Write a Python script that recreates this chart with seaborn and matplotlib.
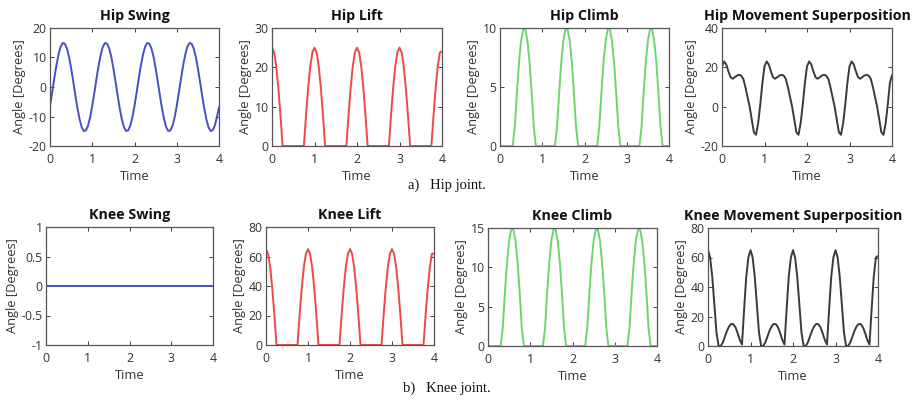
import matplotlib
matplotlib.use("Agg")
import matplotlib.pyplot as plt
import seaborn as sns
import pandas as pd

# ---------------- data (t step 0.05 s) ----------------
time = [round(0.05 * i, 2) for i in range(81)]

hip_swing = [
    -6.4, -1.9, 2.8, 7.2, 10.9, 13.6, 14.9, 14.7, 13.1, 10.3, 6.4, 1.9, -2.8, -7.2, -10.9, -13.6, -14.9, -14.7, -13.1, -10.3,
    -6.4, -1.9, 2.8, 7.2, 10.9, 13.6, 14.9, 14.7, 13.1, 10.3, 6.4, 1.9, -2.8, -7.2, -10.9, -13.6, -14.9, -14.7, -13.1, -10.3,
    -6.4, -1.9, 2.8, 7.2, 10.9, 13.6, 14.9, 14.7, 13.1, 10.3, 6.4, 1.9, -2.8, -7.2, -10.9, -13.6, -14.9, -14.7, -13.1, -10.3,
    -6.4, -1.9, 2.8, 7.2, 10.9, 13.6, 14.9, 14.7, 13.1, 10.3, 6.4, 1.9, -2.8, -7.2, -10.9, -13.6, -14.9, -14.7, -13.1, -10.3,
    -6.8]
hip_lift = [
    25, 23.8, 20.2, 14.7, 7.7, 0, 0, 0, 0, 0, 0, 0, 0, 0, 0, 0, 7.7, 14.7, 20.2, 23.8,
    25, 23.8, 20.2, 14.7, 7.7, 0, 0, 0, 0, 0, 0, 0, 0, 0, 0, 0, 7.7, 14.7, 20.2, 23.8,
    25, 23.8, 20.2, 14.7, 7.7, 0, 0, 0, 0, 0, 0, 0, 0, 0, 0, 0, 7.7, 14.7, 20.2, 23.8,
    25, 23.8, 20.2, 14.7, 7.7, 0, 0, 0, 0, 0, 0, 0, 0, 0, 0, 0, 7.7, 14.7, 20.2, 23.8,
    24]
hip_climb = [
    0, 0, 0, 0, 0, 0, 0, 1.6, 4.5, 7.1, 8.9, 9.9, 9.9, 8.9, 7.1, 4.5, 1.6, 0, 0, 0,
    0, 0, 0, 0, 0, 0, 0, 1.6, 4.5, 7.1, 8.9, 9.9, 9.9, 8.9, 7.1, 4.5, 1.6, 0, 0, 0,
    0, 0, 0, 0, 0, 0, 0, 1.6, 4.5, 7.1, 8.9, 9.9, 9.9, 8.9, 7.1, 4.5, 1.6, 0, 0, 0,
    0, 0, 0, 0, 0, 0, 0, 1.6, 4.5, 7.1, 8.9, 9.9, 9.9, 8.9, 7.1, 4.5, 1.6, 0, 0, 0,
    0]
hip_super = [
    20.5, 23.0, 21.5, 18.0, 15.0, 14.2, 15.0, 15.8, 16.2, 15.8, 14.2, 10.0, 5.0, 0.0, -6.5, -13.0, -14.3, -8.5, 1.0, 12.0,
    20.5, 23.0, 21.5, 18.0, 15.0, 14.2, 15.0, 15.8, 16.2, 15.8, 14.2, 10.0, 5.0, 0.0, -6.5, -13.0, -14.3, -8.5, 1.0, 12.0,
    20.5, 23.0, 21.5, 18.0, 15.0, 14.2, 15.0, 15.8, 16.2, 15.8, 14.2, 10.0, 5.0, 0.0, -6.5, -13.0, -14.3, -8.5, 1.0, 12.0,
    20.5, 23.0, 21.5, 18.0, 15.0, 14.2, 15.0, 15.8, 16.2, 15.8, 14.2, 10.0, 5.0, 0.0, -6.5, -13.0, -14.3, -8.5, 1.0, 12.0,
    16.0]

knee_swing = [0] * 81
knee_lift = [
    65, 61.8, 52.6, 38.2, 20.1, 0, 0, 0, 0, 0, 0, 0, 0, 0, 0, 0, 20.1, 38.2, 52.6, 61.8,
    65, 61.8, 52.6, 38.2, 20.1, 0, 0, 0, 0, 0, 0, 0, 0, 0, 0, 0, 20.1, 38.2, 52.6, 61.8,
    65, 61.8, 52.6, 38.2, 20.1, 0, 0, 0, 0, 0, 0, 0, 0, 0, 0, 0, 20.1, 38.2, 52.6, 61.8,
    65, 61.8, 52.6, 38.2, 20.1, 0, 0, 0, 0, 0, 0, 0, 0, 0, 0, 0, 20.1, 38.2, 52.6, 61.8,
    62]
knee_climb = [
    0, 0, 0, 0, 0, 0, 0, 2.3, 6.8, 10.6, 13.4, 14.8, 14.8, 13.4, 10.6, 6.8, 2.3, 0, 0, 0,
    0, 0, 0, 0, 0, 0, 0, 2.3, 6.8, 10.6, 13.4, 14.8, 14.8, 13.4, 10.6, 6.8, 2.3, 0, 0, 0,
    0, 0, 0, 0, 0, 0, 0, 2.3, 6.8, 10.6, 13.4, 14.8, 14.8, 13.4, 10.6, 6.8, 2.3, 0, 0, 0,
    0, 0, 0, 0, 0, 0, 0, 2.3, 6.8, 10.6, 13.4, 14.8, 14.8, 13.4, 10.6, 6.8, 2.3, 0, 0, 0,
    0]
knee_super = [
    65, 60, 47, 28, 9, 0, 0, 2.5, 6.5, 10.5, 13.5, 15, 14.7, 12.5, 8.5, 4, 1, 25, 47, 60,
    65, 60, 47, 28, 9, 0, 0, 2.5, 6.5, 10.5, 13.5, 15, 14.7, 12.5, 8.5, 4, 1, 25, 47, 60,
    65, 60, 47, 28, 9, 0, 0, 2.5, 6.5, 10.5, 13.5, 15, 14.7, 12.5, 8.5, 4, 1, 25, 47, 60,
    65, 60, 47, 28, 9, 0, 0, 2.5, 6.5, 10.5, 13.5, 15, 14.7, 12.5, 8.5, 4, 1, 25, 47, 60,
    61]

titles = ["Hip Swing", "Hip Lift", "Hip Climb", "Hip Movement Superposition",
          "Knee Swing", "Knee Lift", "Knee Climb", "Knee Movement Superposition"]
series = [hip_swing, hip_lift, hip_climb, hip_super,
          knee_swing, knee_lift, knee_climb, knee_super]
yticks = [[-20, -10, 0, 10, 20], [0, 10, 20, 30], [0, 5, 10], [-20, 0, 20, 40],
          [-1, -0.5, 0, 0.5, 1], [0, 20, 40, 60, 80], [0, 5, 10, 15], [0, 20, 40, 60, 80]]
ytick_labels = [["-20", "-10", "0", "10", "20"], ["0", "10", "20", "30"], ["0", "5", "10"],
                ["-20", "0", "20", "40"], ["-1", "-0.5", "0", "0.5", "1"],
                ["0", "20", "40", "60", "80"], ["0", "5", "10", "15"], ["0", "20", "40", "60", "80"]]
xticks = [0, 1, 2, 3, 4]
captions = ["a)   Hip joint.", "b)   Knee joint."]

# ---------------- styling ----------------
sns.set_theme(style="white")
plt.rcParams["font.family"] = ["Open Sans", "DejaVu Sans"]
plt.rcParams["axes.unicode_minus"] = False

colors = ["#4550c4", "#f04848", "#6cd66c", "#3a3a3a"] * 2

W, H = 916, 407
fig = plt.figure(figsize=(W / 100, H / 100), dpi=100)

# axes boxes in pixels: left, top, right, bottom
boxes = [(50, 28, 219, 146), (272, 28, 442, 146), (500, 28, 669, 146), (722, 28, 892, 146),
         (46, 227, 213, 345), (266, 227, 434, 345), (488, 228, 657, 346), (708, 228, 878, 346)]

for i in range(8):
    l, t, r, b = boxes[i]
    ax = fig.add_axes([l / W, 1 - b / H, (r - l) / W, (b - t) / H])
    df = pd.DataFrame({"Time": time, "Angle": series[i]})
    sns.lineplot(data=df, x="Time", y="Angle", ax=ax, color=colors[i], linewidth=1.4)
    ax.set_xlim(0, 4)
    ax.set_ylim(yticks[i][0], yticks[i][-1])
    ax.set_xticks(xticks)
    ax.set_xticklabels([str(x) for x in xticks])
    ax.set_yticks(yticks[i])
    ax.set_yticklabels(ytick_labels[i])
    ax.tick_params(direction="in", length=3, width=0.7, color="#404040",
                   labelsize=8.8, labelcolor="#333333",
                   top=True, right=True, bottom=True, left=True)
    ax.tick_params(axis="x", pad=5)
    ax.tick_params(axis="y", pad=2.5)
    for s in ax.spines.values():
        s.set_color("#555555")
        s.set_linewidth(0.9)
    ax.set_title(titles[i], fontsize=10.3, fontweight="bold", color="#111111", pad=6)
    ax.set_xlabel("Time", fontsize=9.3, color="#333333", labelpad=3)
    ax.set_ylabel("Angle [Degrees]", fontsize=9.3, color="#333333", labelpad=2)

fig.text(447 / W, 1 - 185 / H, captions[0], ha="center", va="center",
         fontsize=10.5, family=["Liberation Serif", "DejaVu Serif"], color="#111111")
fig.text(447 / W, 1 - 388 / H, captions[1], ha="center", va="center",
         fontsize=10.5, family=["Liberation Serif", "DejaVu Serif"], color="#111111")

fig.savefig("out.png", dpi=100)
